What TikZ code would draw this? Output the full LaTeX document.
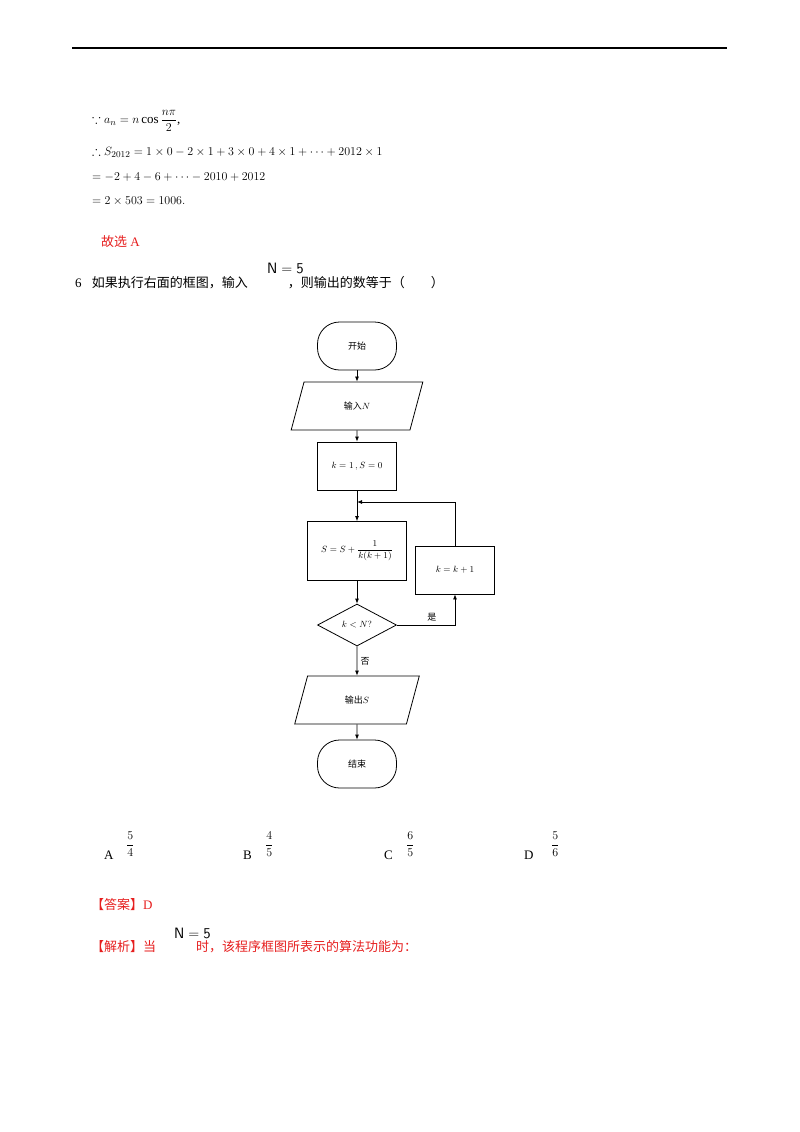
\documentclass[tikz,border=0pt]{standalone}
\usepackage{amsmath,amssymb}
\usepackage{fontspec}
\setmainfont{Liberation Serif}
\newfontfamily\cjk{Noto Sans CJK SC}
\usetikzlibrary{shapes.geometric,arrows.meta}
\definecolor{redt}{RGB}{230,30,30}
\begin{document}
\begin{tikzpicture}[x=1pt,y=-1pt,
 txt/.style={anchor=west,inner sep=0,font=\fontsize{13}{15}\selectfont},
 fc/.style={draw,line width=0.8pt,minimum width=79pt,minimum height=48pt,font=\fontsize{9}{11}\selectfont},
 term/.style={fc,rounded corners=22pt},
 para/.style={fc,trapezium,trapezium left angle=75,trapezium right angle=105,minimum width=70pt},
 ln/.style={line width=0.8pt,-{Latex[length=5pt,width=4pt]}}]
\useasboundingbox (0,0) rectangle (800,1132);
\draw[line width=1.2pt] (72,48) -- (727,48);
\node[txt] (l1) at (92,121) {$\because a_n = n\cos\dfrac{n\pi}{2}$,};
\node[txt] (l2) at (92,152) {$\therefore S_{2012}=1\times0-2\times1+3\times0+4\times1+\cdots+2012\times1$};
\node[txt] (l3) at (92,177) {$=-2+4-6+\cdots-2010+2012$};
\node[txt] (l4) at (92,201) {$=2\times503=1006.$};
\node[txt,text=redt] (g) at (101,242) {{\cjk 故选} A};
\node[txt] (q) at (75,283) {6．{\cjk 如果执行右面的框图，输入}\hspace{40pt}{\cjk ，则输出的数等于（\quad\quad ）}};
\node[txt,font=\fontsize{15}{17}\selectfont\sffamily] (qn) at (267,268) {$\mathsf{N=5}$};
% flowchart
\node[term] (s) at (357,346) {\cjk 开始};
\node[para] (in) at (357,406) {{\cjk 输入}$N$};
\node[fc] (init) at (357,466) {$k=1\,,S=0$};
\node[fc,minimum width=99pt,minimum height=59pt] (sum) at (357,551) {$S=S+\dfrac{1}{k(k+1)}$};
\node[fc] (inc) at (455,570) {$k=k+1$};
\node[fc,diamond,aspect=1.9,minimum width=79pt,minimum height=42pt,inner sep=0] (d) at (357,625) {$k<N?$};
\node[para] (out) at (357,700) {{\cjk 输出}$S$};
\node[term] (e) at (357,764) {\cjk 结束};
\coordinate (m) at (357,502);
\draw[ln] (s) -- (in);
\draw[ln] (in) -- (init);
\draw[ln] (init) -- (sum);
\draw[ln] (sum) -- (d);
\draw[ln] (d.east) -| node[pos=0.3,above,font=\fontsize{9}{11}\selectfont\cjk] {是} (inc.south);
\draw[ln] (inc.north) |- (m);
\draw[ln] (d.south) -- node[right,font=\fontsize{9}{11}\selectfont\cjk,pos=0.5] {否} (out);
\draw[ln] (out) -- (e);
% choices
\node[txt] (ca) at (104,855) {A．};
\node[txt] (fa) at (126,844) {$\dfrac{5}{4}$};
\node[txt] (cb) at (243,855) {B．};
\node[txt] (fb) at (265,844) {$\dfrac{4}{5}$};
\node[txt] (cc) at (384,855) {C．};
\node[txt] (fc1) at (406,844) {$\dfrac{6}{5}$};
\node[txt] (cd) at (524,855) {D．};
\node[txt] (fd) at (551,844) {$\dfrac{5}{6}$};
\node[txt,text=redt] (ans) at (91,905) {{\cjk 【答案】}D};
\node[txt,text=redt] (jx) at (91,947) {{\cjk 【解析】当}\hspace{40pt}{\cjk 时，该程序框图所表示的算法功能为：}};
\node[txt,font=\fontsize{15}{17}\selectfont] (jn) at (174,933) {$\mathsf{N=5}$};
\end{tikzpicture}
\end{document}
